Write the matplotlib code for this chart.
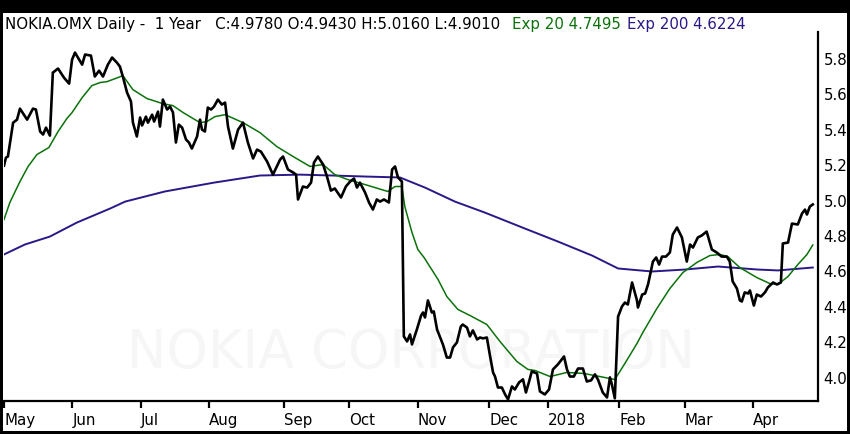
import matplotlib
matplotlib.use("Agg")
import matplotlib.pyplot as plt
from matplotlib.patches import Rectangle

# trading-day position (0 = start of May 2017) and closing price
close_day = [0.0, 0.6, 1.2, 2.8, 4.0, 4.9, 7.1, 8.9, 9.8, 11.1, 12.0, 12.9, 14.1, 15.0, 16.6, 18.4,
             20.0, 20.9, 21.8, 24.0, 24.9, 26.7, 27.9, 29.2, 30.4, 31.9, 33.2, 34.7, 35.6, 36.5, 37.8,
             39.0, 39.6, 40.8, 41.8, 42.4, 43.6, 44.2, 45.5, 46.1, 47.3, 47.9, 48.8, 50.1, 51.0, 51.9,
             52.8, 53.7, 54.7, 55.9, 56.8, 57.7, 59.3, 60.2, 60.8, 61.7, 62.6, 63.6, 64.5, 65.7, 66.9,
             67.9, 68.8, 70.3, 71.9, 73.4, 74.9, 76.5, 77.7, 78.9, 80.8, 82.6, 84.8, 85.7, 87.2, 88.8,
             89.7, 90.3, 91.8, 93.1, 94.3, 95.2, 96.4, 98.0, 99.2, 100.4, 101.6, 103.5, 105.0, 106.3,
             107.5, 108.4, 109.3, 110.9, 112.1, 113.3, 114.5, 115.5, 116.7, 118.2, 119.2, 120.1, 121.0,
             122.2, 122.8, 123.8, 124.7, 125.3, 126.8, 128.1, 128.7, 129.3, 130.2, 131.4, 132.0, 133.0,
             134.2, 134.8, 136.0, 137.0, 137.9, 139.1, 140.3, 140.9, 142.2, 143.1, 144.0, 145.3, 146.2,
             147.1, 148.3, 149.3, 150.2, 150.8, 151.7, 152.9, 153.9, 154.8, 156.0, 156.9, 158.2, 159.4,
             160.3, 161.2, 162.1, 163.7, 164.6, 166.1, 167.4, 168.6, 170.1, 172.0, 172.9, 173.8, 175.0,
             176.3, 177.8, 179.0, 180.3, 181.5, 182.4, 183.9, 185.2, 186.1, 186.7, 187.6, 188.6, 189.8,
             190.7, 191.6, 192.9, 194.4, 194.7, 196.0, 196.9, 197.8, 199.3, 200.3, 201.2, 202.1, 203.3,
             204.5, 205.4, 206.7, 208.2, 209.7, 210.7, 211.6, 213.1, 214.3, 215.8, 217.4, 218.9, 220.4,
             222.0, 222.9, 223.8, 225.1, 226.0, 226.6, 227.5, 228.5, 229.1, 230.3, 231.2, 232.5, 233.7,
             234.6, 236.2, 237.4, 238.6, 239.2, 240.8, 242.0, 243.8, 245.1, 246.0, 246.6, 247.5, 248.4]
close = [5.197, 5.242, 5.248, 5.439, 5.456, 5.518, 5.456, 5.518, 5.513, 5.389, 5.372, 5.411, 5.366,
         5.721, 5.744, 5.693, 5.659, 5.794, 5.834, 5.766, 5.823, 5.817, 5.699, 5.732, 5.699, 5.766,
         5.806, 5.777, 5.755, 5.699, 5.608, 5.558, 5.439, 5.361, 5.468, 5.423, 5.473, 5.439, 5.484,
         5.445, 5.501, 5.417, 5.569, 5.513, 5.530, 5.496, 5.327, 5.428, 5.411, 5.344, 5.327, 5.293,
         5.361, 5.456, 5.400, 5.389, 5.524, 5.513, 5.530, 5.569, 5.541, 5.552, 5.417, 5.293, 5.400,
         5.439, 5.327, 5.237, 5.287, 5.276, 5.220, 5.146, 5.231, 5.248, 5.175, 5.158, 5.146, 5.006,
         5.079, 5.073, 5.101, 5.214, 5.248, 5.203, 5.135, 5.056, 5.068, 5.017, 5.079, 5.107, 5.124,
         5.073, 5.101, 5.045, 4.989, 4.949, 5.006, 4.994, 5.006, 4.989, 5.175, 5.192, 5.130, 5.107,
         4.234, 4.206, 4.245, 4.189, 4.273, 4.352, 4.369, 4.341, 4.437, 4.369, 4.375, 4.273, 4.217,
         4.189, 4.115, 4.115, 4.172, 4.200, 4.290, 4.301, 4.284, 4.234, 4.268, 4.217, 4.228, 4.223,
         4.228, 4.121, 4.031, 4.008, 3.946, 3.946, 3.907, 3.879, 3.952, 3.935, 3.975, 3.992, 3.918,
         3.975, 4.037, 4.025, 3.924, 3.907, 3.935, 4.048, 4.076, 4.121, 4.048, 4.008, 4.008, 4.053,
         4.053, 3.980, 3.986, 4.020, 3.992, 3.918, 3.890, 4.003, 3.963, 3.885, 4.346, 4.403, 4.425,
         4.414, 4.538, 4.437, 4.397, 4.470, 4.476, 4.527, 4.656, 4.679, 4.639, 4.684, 4.684, 4.707,
         4.808, 4.848, 4.792, 4.656, 4.752, 4.735, 4.792, 4.803, 4.825, 4.724, 4.707, 4.684, 4.684,
         4.656, 4.544, 4.504, 4.437, 4.431, 4.482, 4.476, 4.493, 4.408, 4.470, 4.459, 4.482, 4.510,
         4.538, 4.527, 4.538, 4.758, 4.763, 4.870, 4.865, 4.927, 4.949, 4.921, 4.966, 4.978]

# 20-day exponential average
ema20_day = [0.0, 1.8, 4.9, 7.4, 10.1, 13.8, 16.6, 19.3, 20.9, 24.0, 27.0, 29.5, 31.6, 34.1, 36.5,
             39.6, 43.9, 48.8, 51.9, 55.0, 60.2, 62.3, 64.8, 67.9, 73.4, 78.6, 83.8, 88.8, 94.0, 98.0,
             101.6, 105.6, 110.9, 117.9, 120.1, 122.2, 123.1, 125.3, 127.1, 129.0, 133.3, 136.0, 139.4,
             143.1, 148.3, 152.3, 157.5, 160.9, 163.1, 167.7, 172.9, 178.1, 183.0, 187.6, 190.7, 194.4,
             196.2, 200.5, 204.5, 208.5, 212.8, 216.8, 219.9, 222.3, 226.0, 231.2, 235.2, 237.7, 240.8,
             243.8, 246.6, 248.4]
ema20 = [4.893, 4.989, 5.107, 5.192, 5.259, 5.299, 5.389, 5.462, 5.496, 5.580, 5.648, 5.665, 5.670,
         5.687, 5.704, 5.625, 5.575, 5.546, 5.535, 5.496, 5.439, 5.445, 5.473, 5.484, 5.439, 5.383,
         5.304, 5.248, 5.192, 5.203, 5.146, 5.118, 5.090, 5.051, 5.079, 5.079, 4.966, 4.820, 4.724,
         4.679, 4.555, 4.459, 4.386, 4.352, 4.301, 4.206, 4.093, 4.048, 4.042, 4.008, 4.031, 4.025,
         4.008, 3.991, 4.082, 4.194, 4.256, 4.391, 4.504, 4.594, 4.651, 4.690, 4.696, 4.684, 4.622,
         4.566, 4.532, 4.527, 4.572, 4.639, 4.696, 4.7495]

# 200-day exponential average
ema200_day = [0.0, 6.4, 14.1, 22.4, 32.6, 37.2, 49.4, 64.5, 78.6, 90.9, 101.0, 111.5, 121.6, 129.3,
              138.5, 147.7, 160.0, 170.1, 180.6, 188.6, 199.0, 209.1, 219.3, 231.5, 237.7, 248.4]
ema200 = [4.696, 4.752, 4.797, 4.876, 4.955, 4.994, 5.051, 5.101, 5.141, 5.146, 5.141, 5.135, 5.130,
          5.073, 4.994, 4.932, 4.842, 4.769, 4.690, 4.617, 4.600, 4.611, 4.628, 4.611, 4.606, 4.6224]

month_pos = [0, 21, 42, 63, 86, 106, 127, 149, 167, 189, 209, 230]
month_lbl = ["May", "Jun", "Jul", "Aug", "Sep", "Oct", "Nov", "Dec", "2018", "Feb", "Mar", "Apr"]
price_ticks = [4.0, 4.2, 4.4, 4.6, 4.8, 5.0, 5.2, 5.4, 5.6, 5.8]

GREEN = "#0b720b"
PURPLE = "#2a1888"

fig = plt.figure(figsize=(8.5, 4.34), dpi=100, facecolor="black")
# white canvas inside the black frame, drawn below everything
fig.patches.append(Rectangle((3 / 850, 3 / 434), 844 / 850, 418 / 434,
                             transform=fig.transFigure, facecolor="white",
                             edgecolor="none", zorder=-10))

ax = fig.add_axes([4 / 850, 33 / 434, 814 / 850, 369 / 434])
ax.set_facecolor("none")

# faint watermark
ax.text(0.5, 0.13, "NOKIA CORPORATION", transform=ax.transAxes, ha="center", va="center",
        fontsize=38, color="#f6f6f6", zorder=0)

ax.plot(ema200_day, ema200, color=PURPLE, lw=1.4, zorder=2)
ax.plot(ema20_day, ema20, color=GREEN, lw=1.1, zorder=3)
ax.plot(close_day, close, color="black", lw=1.9, zorder=4)

ax.set_xlim(0, 250)
ax.set_ylim(3.87, 5.95)

for s in ["top", "left"]:
    ax.spines[s].set_visible(False)
ax.spines["bottom"].set_linewidth(1.6)
ax.spines["right"].set_linewidth(1.6)

ax.set_xticks(month_pos)
ax.set_xticklabels(month_lbl, ha="left")
ax.tick_params(axis="x", direction="out", length=5, width=1.6, pad=3.5, labelsize=10.8)

ax.yaxis.tick_right()
ax.set_yticks(price_ticks)
ax.set_yticklabels([f"{v:.1f}" for v in price_ticks])
ax.tick_params(axis="y", length=0, pad=4, labelsize=10.8)

ty = 1 - 24 / 434
fig.text(5 / 850, ty, "NOKIA.OMX Daily -  1 Year   C:4.9780 O:4.9430 H:5.0160 L:4.9010",
         fontsize=10.8, color="black", va="center")
fig.text(512 / 850, ty, "Exp 20 4.7495", fontsize=10.8, color=GREEN, va="center")
fig.text(627 / 850, ty, "Exp 200 4.6224", fontsize=10.8, color=PURPLE, va="center")

fig.savefig("out.png", dpi=100, facecolor=fig.get_facecolor())
